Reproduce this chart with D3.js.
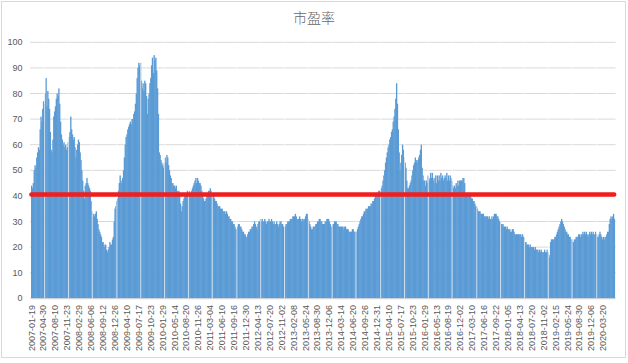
<!DOCTYPE html>
<html lang="zh">
<head>
<meta charset="UTF-8">
<title>市盈率</title>
<script src="https://d3js.org/d3.v7.min.js"></script>
<style>
  body { margin: 0; background: #fff; }
  svg { display: block; font-family: "Liberation Sans", Arial, sans-serif; }
  .lbl { font-size: 9px; fill: #595959; }
  .title { font-family: "Noto Sans CJK SC", sans-serif; font-size: 14px; font-weight: 300; fill: #666; }
</style>
</head>
<body>
<svg width="628" height="363"></svg>
<script>
  // x 轴刻度标签（每 14 周一个）
  const tickLabels = [
    "2007-01-19","2007-04-30","2007-08-10","2007-11-23","2008-02-29","2008-06-06","2008-09-12",
    "2008-12-26","2009-04-10","2009-07-17","2009-10-23","2010-01-29","2010-05-14","2010-08-20",
    "2010-11-26","2011-03-04","2011-06-10","2011-09-16","2011-12-30","2012-04-13","2012-07-20",
    "2012-11-02","2013-02-08","2013-05-24","2013-08-30","2013-12-06","2014-03-14","2014-06-20",
    "2014-09-26","2014-12-31","2015-04-10","2015-07-17","2015-10-23","2016-01-29","2016-05-13",
    "2016-08-19","2016-12-02","2017-03-10","2017-06-16","2017-09-22","2018-01-05","2018-04-13",
    "2018-07-20","2018-11-02","2019-02-15","2019-05-24","2019-08-30","2019-12-06","2020-03-20"
  ];
  const tickStep = 14;

  // 周度市盈率，每行 14 周
  const peValues = [
    44,43,45,50,52,51,55,57,59,58,66,71,69,74,
    77,76,80,86,75,81,78,74,65,58,57,62,71,73,
    75,78,80,79,82,76,69,64,62,60,61,59,60,58,
    59,61,63,65,71,66,64,62,63,59,55,58,60,62,
    61,57,54,50,46,42,39,44,45,47,45,44,43,42,
    38,34,32,33,32,33,34,31,29,27,26,25,24,22,
    22,21,20,21,19,18,19,20,22,21,21,23,24,30,
    35,36,38,39,42,45,48,46,45,47,50,55,60,63,
    64,66,67,68,69,68,70,70,72,73,76,80,86,90,
    92,91,92,85,82,84,81,85,84,79,72,78,80,84,
    86,91,94,88,95,93,94,89,82,72,57,56,54,53,
    52,51,53,55,53,56,55,52,50,48,47,45,45,44,
    44,43,44,42,41,42,40,37,34,36,38,39,40,41,
    41,42,40,42,41,41,42,43,44,45,46,47,45,47,
    46,45,45,44,42,40,39,38,38,39,40,41,42,42,
    43,42,41,40,40,39,38,38,37,36,36,36,35,35,
    35,34,34,34,33,34,33,32,32,31,31,30,30,29,
    29,28,27,27,28,29,29,28,28,27,26,26,25,25,
    24,24,25,26,26,27,27,28,28,29,30,29,28,27,
    29,30,30,31,30,31,30,30,31,30,29,30,30,31,
    30,30,31,30,29,30,29,29,30,29,28,29,30,30,
    29,29,28,28,28,29,29,30,30,30,31,31,31,32,
    32,32,33,32,31,31,31,32,31,30,31,31,30,31,
    32,33,33,31,30,29,28,27,27,28,28,28,29,29,
    30,30,31,31,30,30,29,29,29,30,30,31,31,31,
    30,29,28,28,29,29,30,30,30,29,29,28,28,28,
    28,28,28,27,28,28,27,27,27,26,26,26,26,27,
    27,26,26,26,26,27,28,29,30,31,32,32,33,34,
    34,35,35,35,36,36,36,37,37,38,38,39,40,40,
    41,41,42,42,42,43,44,46,48,50,53,55,57,59,
    60,62,63,65,66,69,71,74,78,84,76,66,57,50,
    53,56,60,58,55,53,51,46,43,43,44,45,46,48,
    50,52,53,55,54,53,54,55,56,58,60,51,48,46,
    46,44,46,45,48,47,46,49,47,49,46,47,45,48,
    45,48,46,48,46,49,47,48,46,47,48,47,49,46,
    48,46,48,47,46,44,43,44,43,45,44,46,44,46,
    46,46,46,47,47,45,41,40,40,41,41,40,40,39,
    39,38,38,37,36,36,35,34,34,34,33,33,33,33,
    32,32,32,32,32,31,32,31,31,32,31,32,33,33,
    33,32,32,31,30,30,29,29,29,28,28,28,27,28,
    27,27,27,26,26,27,27,26,25,25,25,25,25,25,
    25,25,24,25,24,24,22,22,21,21,21,20,21,20,
    20,20,20,19,20,19,19,19,18,19,18,19,18,18,
    18,19,18,18,19,18,17,16,22,23,23,23,23,24,
    24,25,26,27,28,29,30,31,30,29,28,27,26,26,
    25,25,24,24,23,23,22,22,23,23,24,24,24,25,
    25,24,25,25,26,25,26,25,26,25,24,25,26,25,
    26,25,26,25,25,26,25,24,24,25,26,25,24,23,
    24,23,24,24,25,26,26,29,31,32,31,32,33,31
  ];

  // 红色参考线（平均市盈率）
  const avgPE = 40.5;

  const yTicks = [0, 10, 20, 30, 40, 50, 60, 70, 80, 90, 100];

  const svg = d3.select("svg");
  const plotL = 31, plotR = 614.6, plotT = 42.3, plotB = 298.3;

  // 外框
  svg.append("rect")
    .attr("x", 1.5).attr("y", 1.5)
    .attr("width", 624).attr("height", 356)
    .attr("fill", "#fff").attr("stroke", "#d9d9d9");

  svg.append("text")
    .attr("class", "title")
    .attr("x", 314).attr("y", 23)
    .attr("text-anchor", "middle")
    .text("市盈率");

  const idx = d3.range(peValues.length);
  const x = d3.scaleBand().domain(idx).range([plotL, plotR]).padding(0);
  const y = d3.scaleLinear().domain([0, 100]).range([plotB, plotT]);

  // 网格线 + y 轴
  svg.append("g")
    .selectAll("line")
    .data(yTicks)
    .join("line")
      .attr("x1", plotL - 1).attr("x2", plotR + 1)
      .attr("y1", d => y(d)).attr("y2", d => y(d))
      .attr("stroke", "#d9d9d9").attr("stroke-width", 1);

  svg.append("g")
    .selectAll("text")
    .data(yTicks)
    .join("text")
      .attr("class", "lbl")
      .attr("x", 22.5)
      .attr("y", d => y(d))
      .attr("dy", "0.35em")
      .attr("text-anchor", "end")
      .text(d => d);

  // 柱子
  svg.append("g")
    .selectAll("rect")
    .data(peValues)
    .join("rect")
      .attr("x", (d, i) => x(i))
      .attr("y", d => y(d))
      .attr("width", x.bandwidth() + 0.5)
      .attr("height", d => plotB - y(d))
      .attr("fill", "#5b9bd5");

  // 柱间的白色细缝
  const gaps = d3.range(24).map(k => Math.round(15.9 + 28.2 * k));
  svg.append("g")
    .selectAll("line")
    .data(gaps)
    .join("line")
      .attr("x1", d => x(d)).attr("x2", d => x(d))
      .attr("y1", plotT).attr("y2", plotB)
      .attr("stroke", "#fff").attr("stroke-opacity", 0.7).attr("stroke-width", 1);

  // x 轴
  svg.append("line")
    .attr("x1", plotL).attr("x2", plotR)
    .attr("y1", plotB + 0.5).attr("y2", plotB + 0.5)
    .attr("stroke", "#d9d9d9");

  svg.append("g")
    .selectAll("text")
    .data(tickLabels)
    .join("text")
      .attr("class", "lbl")
      .attr("text-anchor", "end")
      .attr("dy", "0.35em")
      .attr("transform", (d, i) => `translate(${x(i * tickStep) + x.bandwidth() / 2},305) rotate(-90)`)
      .text(d => d);

  // 红线
  const line = d3.line()
    .x(i => x(i) + x.bandwidth() / 2)
    .y(() => y(avgPE));
  svg.append("path")
    .datum([0, peValues.length - 1])
    .attr("d", line)
    .attr("fill", "none")
    .attr("stroke", "#f01e1e")
    .attr("stroke-width", 4.5)
    .attr("stroke-linecap", "round");
</script>
</body>
</html>
